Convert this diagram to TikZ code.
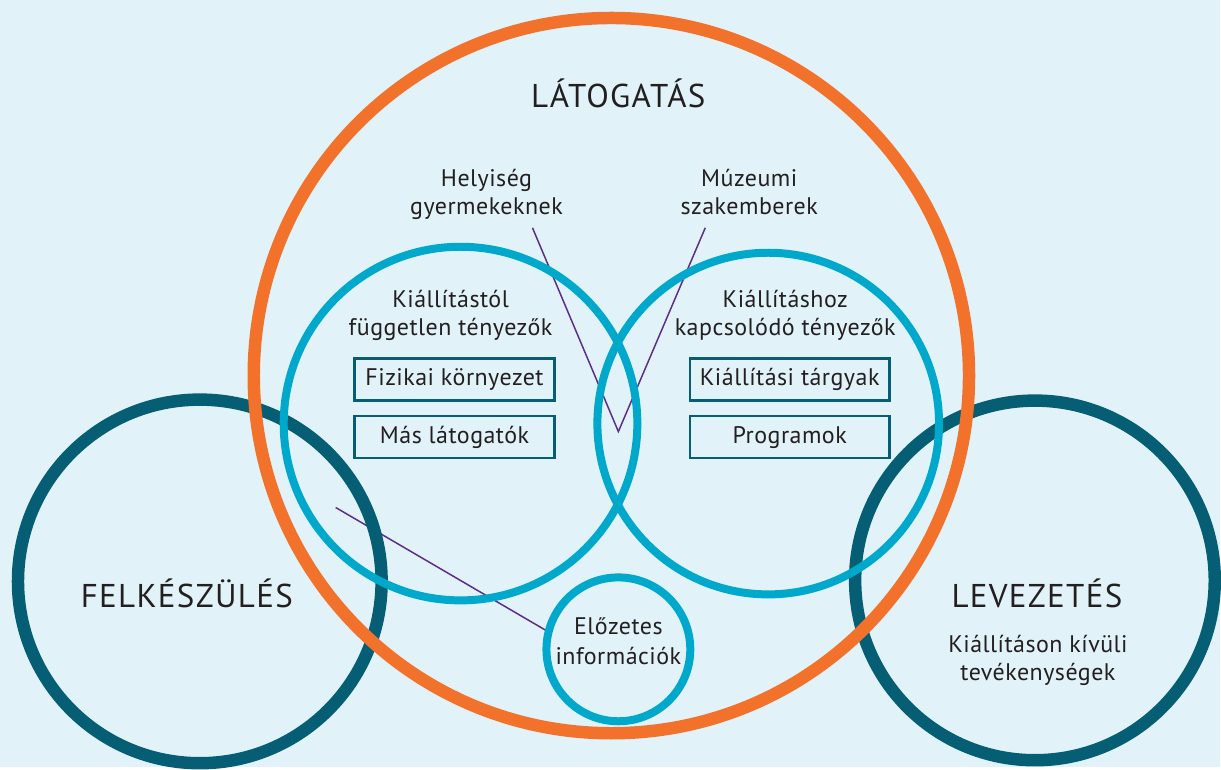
\documentclass[tikz,border=0pt]{standalone}
\usepackage{fontspec}
\setmainfont{PT Sans}
\newfontfamily\sparsefont[LetterSpace=4]{PT Sans}
\newfontfamily\lightsparse[LetterSpace=2]{PT Sans}
\definecolor{bgc}{HTML}{E1F3F8}
\definecolor{orng}{HTML}{F2722B}
\definecolor{dteal}{HTML}{055E74}
\definecolor{cyn}{HTML}{00A8CB}
\definecolor{purp}{HTML}{5C2E8A}
\definecolor{txt}{HTML}{231F20}
\pgfdeclarelayer{back}
\pgfdeclarelayer{lines}
\pgfsetlayers{back,lines,main}
\begin{document}
\begin{tikzpicture}[x=1pt,y=-1pt,
  ring/.style={circle, draw, inner sep=0pt, outer sep=0pt},
  bigtxt/.style={font=\sparsefont\fontsize{33}{40}\selectfont, text=txt, inner sep=0pt, anchor=base},
  smalltxt/.style={font=\lightsparse\fontsize{24}{29}\selectfont, text=txt, inner sep=0pt, anchor=base},
  boxst/.style={draw=dteal, line width=2.5pt, minimum width=200pt, minimum height=42pt,
    inner sep=0pt, text height=17pt, text depth=5pt, font=\lightsparse\fontsize{24}{29}\selectfont, text=txt},
  link/.style={draw=purp, line width=1.5pt}]
\begin{pgfonlayer}{back}
\path[use as bounding box, fill=bgc] (0,0) rectangle (1221,768);
\end{pgfonlayer}
% dark circles
\node[ring, draw=dteal, line width=12.5pt, minimum size=364pt] (felk) at (200,582) {};
\node[ring, draw=dteal, line width=12.5pt, minimum size=360pt] (lev) at (1036,581) {};
% orange circle
\node[ring, draw=orng, line width=12.5pt, minimum size=716pt] (lat) at (612,376) {};
% cyan circles
\node[ring, draw=cyn, line width=8pt, minimum size=354pt] (cl) at (461,424) {};
\node[ring, draw=cyn, line width=8pt, minimum size=342pt] (cr) at (769,424) {};
\node[ring, draw=cyn, line width=8pt, minimum size=144pt] (info) at (619,650) {};
% boxes
\node[boxst] (b1) at (455,380) {Fizikai környezet};
\node[boxst] (b2) at (455,437.5) {Más látogatók};
\node[boxst] (b3) at (790.5,380) {Kiállítási tárgyak};
\node[boxst] (b4) at (790.5,437.5) {Programok};
% texts
\node[bigtxt] (tlat) at (619,108) {LÁTOGATÁS};
\node[bigtxt] (tfelk) at (187,608) {FELKÉSZÜLÉS};
\node[bigtxt] (tlev) at (1038,608) {LEVEZETÉS};
\node[smalltxt] (h1) at (487,187) {Helyiség};
\node[smalltxt] (h2) at (487,215) {gyermekeknek};
\node[smalltxt] (m1) at (750,187) {Múzeumi};
\node[smalltxt] (m2) at (750,215) {szakemberek};
\node[smalltxt] (k1) at (451,308) {Kiállítástól};
\node[smalltxt] (k2) at (451,336) {független tényezők};
\node[smalltxt] (k3) at (786,308) {Kiállításhoz};
\node[smalltxt] (k4) at (786,336) {kapcsolódó tényezők};
\node[smalltxt] (e1) at (619,635) {Előzetes};
\node[smalltxt] (e2) at (619,665) {információk};
\node[smalltxt] (l1) at (1039,653) {Kiállításon kívüli};
\node[smalltxt] (l2) at (1039,681) {tevékenységek};
% connectors
\coordinate (p1) at (336,508);
\coordinate (v1) at (533,228);
\coordinate (v2) at (706,228);
\coordinate (vb) at (619,432);
\begin{pgfonlayer}{lines}
\draw[link] (p1) -- (info.166);
\draw[link, line join=miter] (v1) -- (vb) -- (v2);
\end{pgfonlayer}
\end{tikzpicture}
\end{document}
